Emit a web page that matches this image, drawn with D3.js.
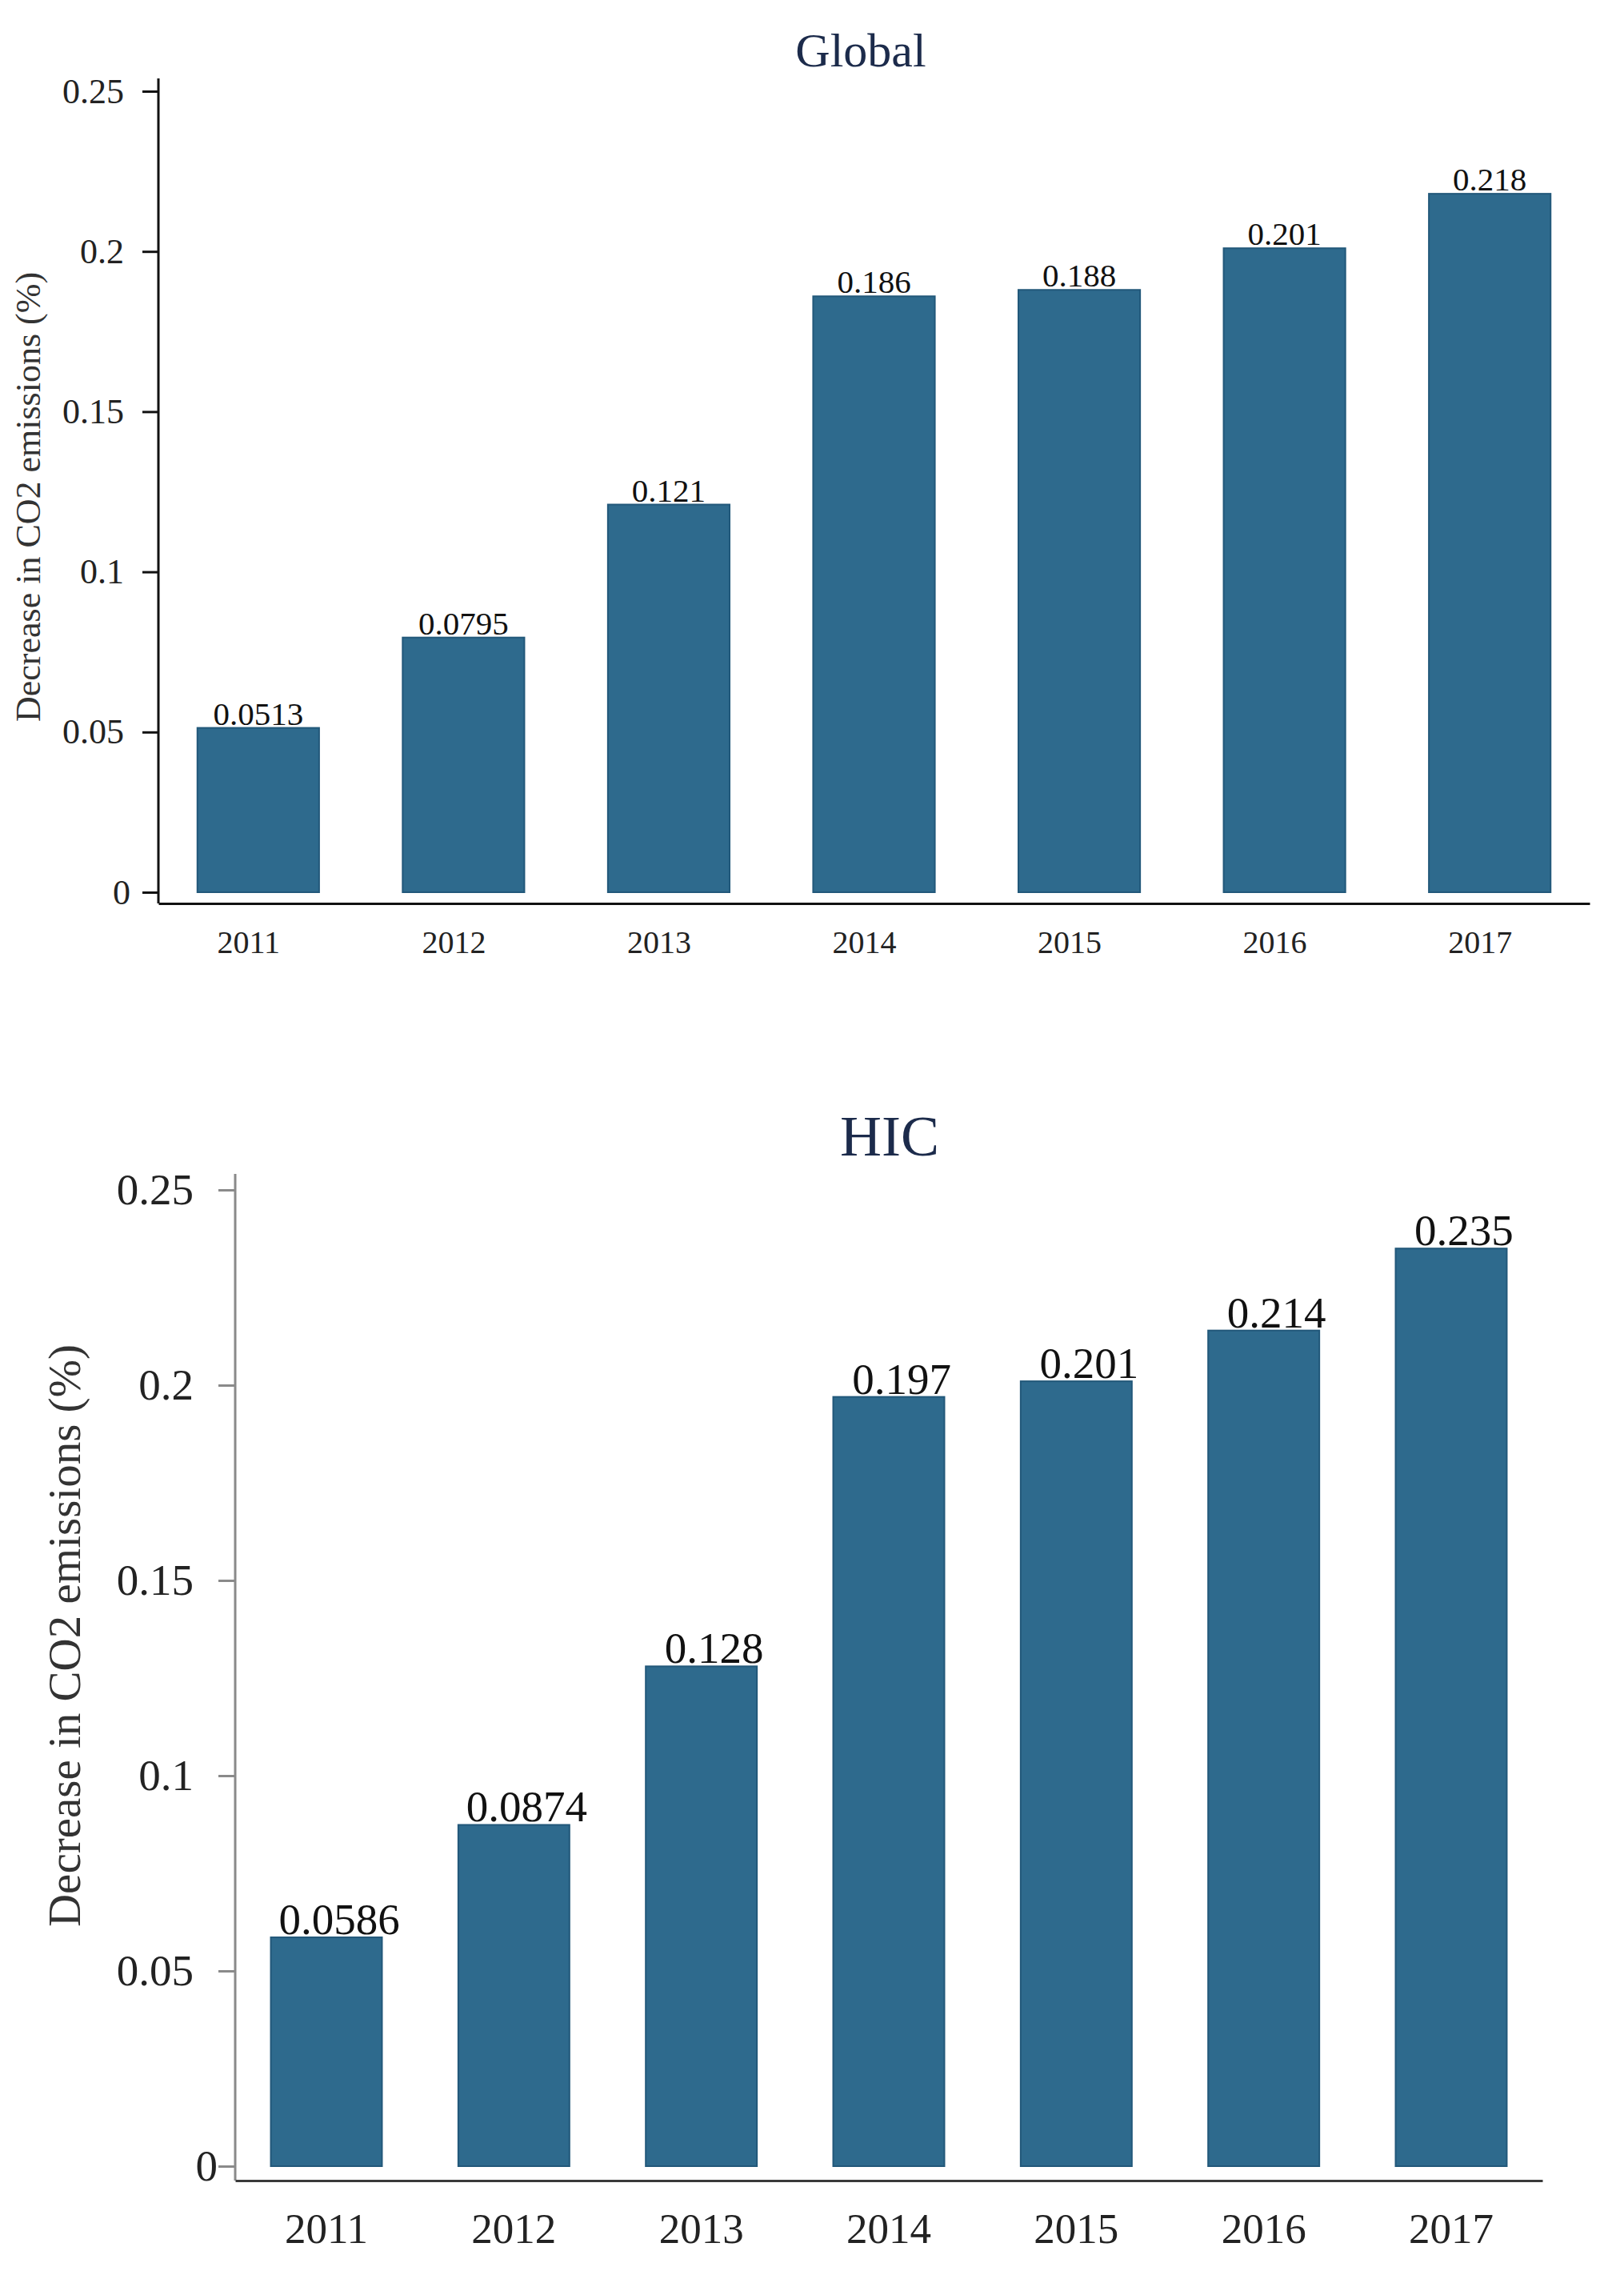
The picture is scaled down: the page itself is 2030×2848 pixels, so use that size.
<!DOCTYPE html>
<html>
<head>
<meta charset="utf-8">
<script src="https://cdn.jsdelivr.net/npm/d3@7"></script>
<style>
  body { margin: 0; background: #fff; }
  text { font-family: "Liberation Serif", "Times New Roman", serif; }
</style>
</head>
<body>
<div id="chart"></div>
<script>
// data
var years = ["2011", "2012", "2013", "2014", "2015", "2016", "2017"];
var globalValues = [0.0513, 0.0795, 0.121, 0.186, 0.188, 0.201, 0.218];
var hicValues = [0.0586, 0.0874, 0.128, 0.197, 0.201, 0.214, 0.235];
var yTickValues = [0, 0.05, 0.1, 0.15, 0.2, 0.25];
var yTickLabels = ["0", "0.05", "0.1", "0.15", "0.2", "0.25"];
var yTitle = "Decrease in CO2 emissions (%)";

var svgWidth = 2030;
var svgHeight = 2848;

var svg = d3.select("#chart")
  .append("svg")
  .attr("width", svgWidth)
  .attr("height", svgHeight);

// layout for each panel
var panels = [
  {
    title: "Global", values: globalValues,
    titleX: 1076, titleY: 83, titleSize: 60,
    x0: 198, x1: 1987, yZero: 1115, yTop: 114, axisTop: 98, xAxisY: 1129,
    tickFont: 44, xFont: 40, valueFont: 41, yTitleFont: 44,
    yTitleX: 50, yTitleY: 621, tickSize: 20, tickPad: 23, xPad: 34, xShift: -12,
    valueShift: 0, zeroShift: 8,
    yAxisColor: "#111", xAxisColor: "#111", yTitleColor: "#333"
  },
  {
    title: "HIC", values: hicValues,
    titleX: 1112, titleY: 1444, titleSize: 72,
    x0: 294, x1: 1928, yZero: 2707, yTop: 1487, axisTop: 1467, xAxisY: 2725,
    tickFont: 55, xFont: 53, valueFont: 55, yTitleFont: 57,
    yTitleX: 100, yTitleY: 2044, tickSize: 21, tickPad: 31, xPad: 40, xShift: 0,
    valueShift: 16, zeroShift: 30,
    yAxisColor: "#8a8a8a", xAxisColor: "#3a3a3a", yTitleColor: "#333"
  }
];

panels.forEach(function(p) {

  var xScale = d3.scaleBand()
    .domain(years)
    .range([p.x0, p.x1])
    .paddingInner(0.407)
    .paddingOuter(0.19);

  var yScale = d3.scaleLinear()
    .domain([0, 0.25])
    .range([p.yZero, p.yTop]);

  var g = svg.append("g");

  // title
  g.append("text")
    .attr("x", p.titleX)
    .attr("y", p.titleY)
    .attr("text-anchor", "middle")
    .attr("font-size", p.titleSize + "px")
    .attr("fill", "#1c2b4b")
    .text(p.title);

  // bars
  g.selectAll(".bar")
    .data(p.values)
    .enter()
    .append("rect")
    .attr("class", "bar")
    .attr("x", (d, i) => xScale(years[i]))
    .attr("y", d => yScale(d))
    .attr("width", xScale.bandwidth())
    .attr("height", d => yScale(0) - yScale(d))
    .attr("fill", "#2e6a8d")
    .attr("stroke", "#22587a")
    .attr("stroke-width", 2);

  // value labels
  g.selectAll(".val")
    .data(p.values)
    .enter()
    .append("text")
    .attr("class", "val")
    .attr("x", (d, i) => xScale(years[i]) + xScale.bandwidth() / 2 + p.valueShift)
    .attr("y", d => yScale(d) - 4)
    .attr("text-anchor", "middle")
    .attr("font-size", p.valueFont + "px")
    .attr("fill", "#111")
    .text(d => String(d));

  // y axis
  var leftAxis = d3.axisLeft(yScale)
    .tickValues(yTickValues)
    .tickFormat((d, i) => yTickLabels[i])
    .tickSize(p.tickSize)
    .tickPadding(p.tickPad)
    .tickSizeOuter(0);

  var yAxisG = g.append("g")
    .attr("transform", `translate(${p.x0}, 0)`)
    .call(leftAxis);
  yAxisG.select(".domain").remove();
  yAxisG.selectAll(".tick line")
    .attr("stroke", p.yAxisColor)
    .attr("stroke-width", 3);
  yAxisG.selectAll(".tick text")
    .attr("font-size", p.tickFont + "px")
    .attr("font-family", "Liberation Serif, Times New Roman, serif")
    .attr("fill", "#222")
    .attr("dx", d => d === 0 ? p.zeroShift : 0);

  g.append("line")
    .attr("x1", p.x0).attr("x2", p.x0)
    .attr("y1", p.axisTop).attr("y2", p.xAxisY)
    .attr("stroke", p.yAxisColor)
    .attr("stroke-width", 3);

  // x axis
  var bottomAxis = d3.axisBottom(xScale)
    .tickSize(0)
    .tickSizeOuter(0)
    .tickPadding(p.xPad);

  var xAxisG = g.append("g")
    .attr("transform", `translate(0, ${p.xAxisY})`)
    .call(bottomAxis);
  xAxisG.select(".domain")
    .attr("stroke", p.xAxisColor)
    .attr("stroke-width", 3);
  xAxisG.selectAll(".tick text")
    .attr("font-size", p.xFont + "px")
    .attr("font-family", "Liberation Serif, Times New Roman, serif")
    .attr("fill", "#222")
    .attr("dx", p.xShift);

  // y axis title
  g.append("text")
    .attr("transform", `translate(${p.yTitleX}, ${p.yTitleY}) rotate(-90)`)
    .attr("text-anchor", "middle")
    .attr("font-size", p.yTitleFont + "px")
    .attr("fill", p.yTitleColor)
    .text(yTitle);
});
</script>
</body>
</html>
